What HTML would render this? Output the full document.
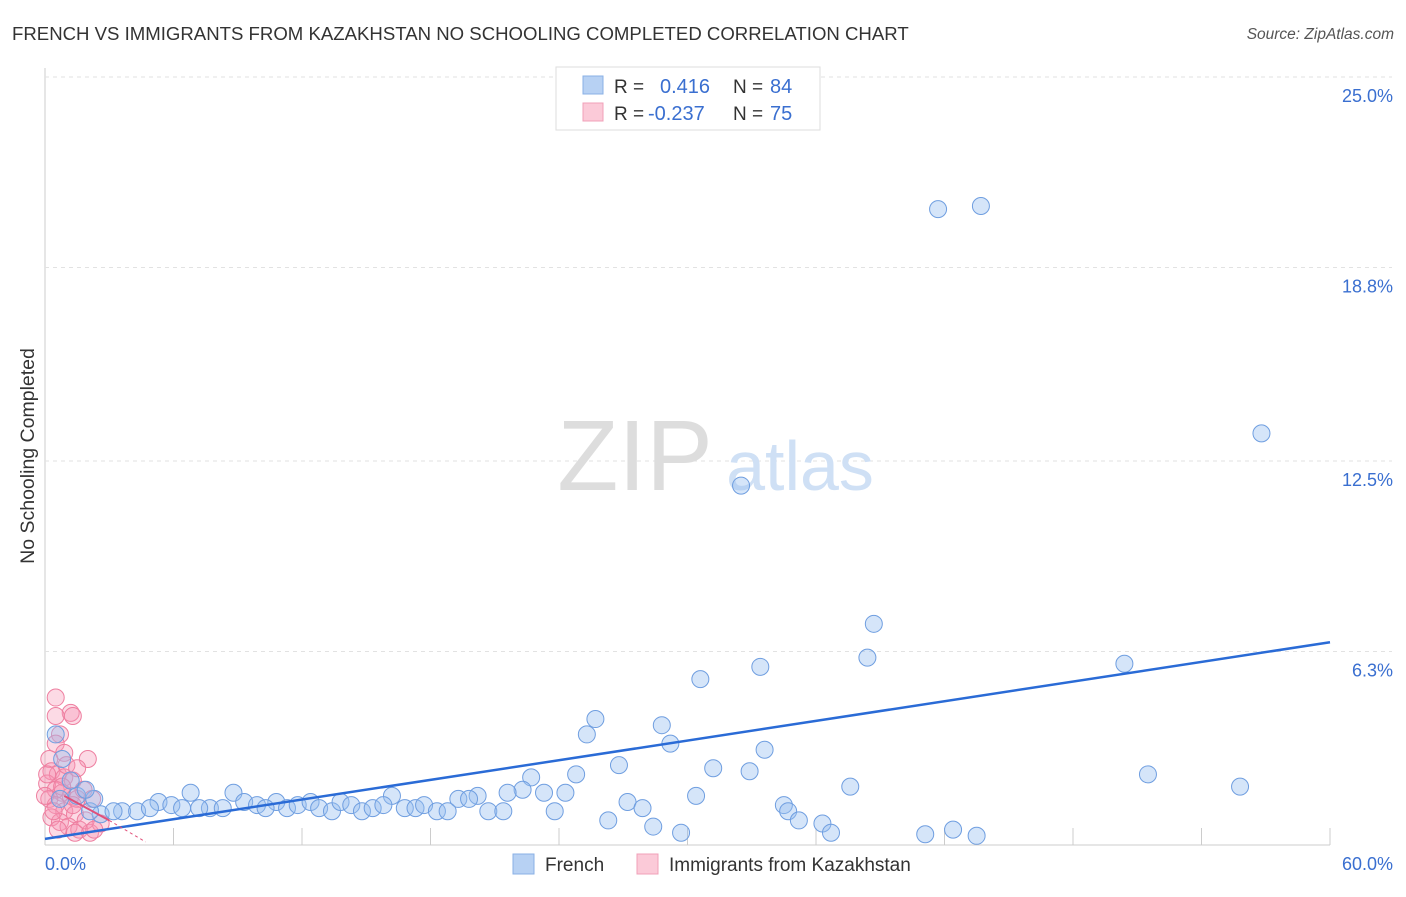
<!DOCTYPE html>
<html><head><meta charset="utf-8">
<style>
body{margin:0;background:#fff;font-family:"Liberation Sans",sans-serif;}
svg text{font-family:"Liberation Sans",sans-serif;}
</style></head>
<body>
<svg id="chart" width="1406" height="892" xmlns="http://www.w3.org/2000/svg">
<text x="12" y="40" font-size="18.6" fill="#333">FRENCH VS IMMIGRANTS FROM KAZAKHSTAN NO SCHOOLING COMPLETED CORRELATION CHART</text>
<text x="1394" y="39" font-size="15.5" fill="#555" font-style="italic" text-anchor="end">Source: ZipAtlas.com</text>
<text x="34" y="456" font-size="19.5" fill="#333" text-anchor="middle" transform="rotate(-90 34 456)">No Schooling Completed</text>
<g id="grid"></g>
<text x="635" y="490" font-size="100" fill="#ddd" font-family="Liberation Serif" text-anchor="middle">ZIP</text>
<text x="800" y="490" font-size="70" fill="#cfe0f5" text-anchor="middle">atlas</text>
<g id="pts"></g>
<g id="trend"></g>
<g>
<rect x="556" y="67" width="264" height="63" fill="#fff" stroke="#ddd"/>
<rect x="583" y="76" width="20" height="18" fill="#b7d1f3" stroke="#8ab0e6"/>
<rect x="583" y="103" width="20" height="18" fill="#fbcad8" stroke="#f0a0b8"/>
<text x="614" y="93" font-size="19" fill="#333">R =</text>
<text x="660" y="93" font-size="20" fill="#3a6fd0">0.416</text>
<text x="733" y="93" font-size="19" fill="#333">N =</text>
<text x="770" y="93" font-size="20" fill="#3a6fd0">84</text>
<text x="614" y="120" font-size="19" fill="#333">R =</text>
<text x="648" y="120" font-size="20" fill="#3a6fd0">-0.237</text>
<text x="733" y="120" font-size="19" fill="#333">N =</text>
<text x="770" y="120" font-size="20" fill="#3a6fd0">75</text>
</g>
<g>
<rect x="513" y="854" width="21" height="20" fill="#b7d1f3" stroke="#8ab0e6"/>
<text x="545" y="871" font-size="19" fill="#333">French</text>
<rect x="637" y="854" width="21" height="20" fill="#fbcad8" stroke="#f0a0b8"/>
<text x="669" y="871" font-size="19" fill="#333">Immigrants from Kazakhstan</text>
</g>
</svg>
<script>
const yTicks=[25.0,18.8,12.5,6.3];
const yTickLabels=["25.0%","18.8%","12.5%","6.3%"];
const xTickLabels=["0.0%","60.0%"];
const frenchX=[41.7,43.7,56.8,32.5,38.7,38.4,50.4,33.4,30.6,25.7,28.8,25.3,29.2,33.6,26.8,31.2,32.9,24.8,22.7,51.5,37.6,55.8,22.3,21.6,23.3,24.3,30.4,20.2,19.3,19.8,27.2,27.9,34.5,34.7,23.8,20.7,21.4,35.2,36.3,26.3,28.4,29.7,36.7,41.1,42.4,43.5,6.8,8.8,7.7,10.8,16.2,5.3,5.9,3.6,4.3,4.9,6.4,7.2,8.3,9.3,9.9,10.3,11.3,11.8,12.4,12.8,13.4,13.8,14.3,14.8,15.3,15.8,16.8,17.3,17.7,18.3,18.8,2.6,3.2,2.1,1.5,2.3,0.8,0.5,1.2,1.9,0.7];
const frenchY=[20.7,20.8,13.4,11.7,7.2,6.1,5.9,5.8,5.4,4.1,3.9,3.6,3.3,3.1,2.6,2.5,2.4,2.3,2.2,2.3,1.9,1.9,1.8,1.7,1.7,1.7,1.6,1.6,1.5,1.5,1.4,1.2,1.3,1.1,1.1,1.1,1.1,0.8,0.7,0.8,0.6,0.4,0.4,0.35,0.5,0.3,1.7,1.7,1.2,1.4,1.6,1.4,1.3,1.1,1.1,1.2,1.2,1.2,1.2,1.4,1.3,1.2,1.2,1.3,1.4,1.2,1.1,1.4,1.3,1.1,1.2,1.3,1.2,1.2,1.3,1.1,1.1,1.0,1.1,1.1,1.6,1.5,2.8,3.6,2.1,1.8,1.5];
const kazX=[0.5,1.2,1.3,0.5,0.7,0.5,0.9,2.0,0.2,0.3,0.6,0.9,1.3,0.1,0.5,0.8,1.2,1.5,0.2,0.5,0,0.9,1.4,0.3,0.7,1.1,1.6,2.1,0.6,2.6,1.8,2.2,0.1,1.0,1.5,0.8,1.3,1.9,2.3,1.4,0.4];
const kazY=[4.8,4.3,4.2,4.2,3.6,3.3,3.0,2.8,2.8,2.4,2.3,2.2,2.1,2.0,1.8,1.7,1.6,1.5,1.5,1.3,1.6,1.1,1.0,0.9,0.75,0.6,0.5,0.4,0.5,0.7,1.8,1.5,2.3,2.6,2.5,1.9,1.3,0.8,0.5,0.4,1.1];
const frenchTrend=[0.2,60,6.6];
const kazTrend=[0.9,1.6,3.0,0.8,4.7,0.1];
const NS="http://www.w3.org/2000/svg";
const X=v=>45+v*(1285/60), Y=v=>845-v*30.72;
function mk(tag,attrs,parent){const e=document.createElementNS(NS,tag);for(const k in attrs)e.setAttribute(k,attrs[k]);parent.appendChild(e);return e;}
const grid=document.getElementById('grid');
mk('line',{x1:45,y1:68,x2:45,y2:845,stroke:'#ccc'},grid);
mk('line',{x1:45,y1:845,x2:1330,y2:845,stroke:'#ccc'},grid);
yTicks.forEach((t,i)=>{
 const l=mk('line',{x1:45,y1:Y(t),x2:1392,y2:Y(t),stroke:'#e2e2e2','stroke-dasharray':'4,4'},grid);
 
 
 const tx=mk('text',{x:1393,y:Y(t)+25,'font-size':18,fill:'#3a6fd0','text-anchor':'end'},grid);
 tx.textContent=yTickLabels[i];
 
 
});
for(let i=0;i<=10;i++){mk('line',{x1:X(i*6),y1:828,x2:X(i*6),y2:845,stroke:'#ccc'},grid);}
const xl0=mk('text',{x:45,y:870,'font-size':18,fill:'#3a6fd0'},grid);xl0.textContent=xTickLabels[0];


const xl1=mk('text',{x:1393,y:870,'font-size':18,fill:'#3a6fd0','text-anchor':'end'},grid);xl1.textContent=xTickLabels[1];


const pts=document.getElementById('pts');
kazX.forEach((v,i)=>{const c=mk('circle',{cx:X(v),cy:Y(kazY[i]),r:8.5,fill:'rgba(246,150,180,0.35)',stroke:'#ee7fa0','stroke-width':1},pts);
 
 });
frenchX.forEach((v,i)=>{const c=mk('circle',{cx:X(v),cy:Y(frenchY[i]),r:8.5,fill:'rgba(150,190,240,0.4)',stroke:'#6f9ee0','stroke-width':1},pts);
 
 });
const tr=document.getElementById('trend');
const bl=mk('line',{x1:X(0),y1:Y(frenchTrend[0]),x2:X(frenchTrend[1]),y2:Y(frenchTrend[2]),stroke:'#2a6bd6','stroke-width':2.5},tr);


const pl=mk('line',{x1:X(kazTrend[0]),y1:Y(kazTrend[1]),x2:X(kazTrend[2]),y2:Y(kazTrend[3]),stroke:'#e0507a','stroke-width':2},tr);


const pd=mk('line',{x1:X(kazTrend[2]),y1:Y(kazTrend[3]),x2:X(kazTrend[4]),y2:Y(kazTrend[5]),stroke:'#e0507a','stroke-width':1,'stroke-dasharray':'3,3'},tr);


</script>
</body></html>
